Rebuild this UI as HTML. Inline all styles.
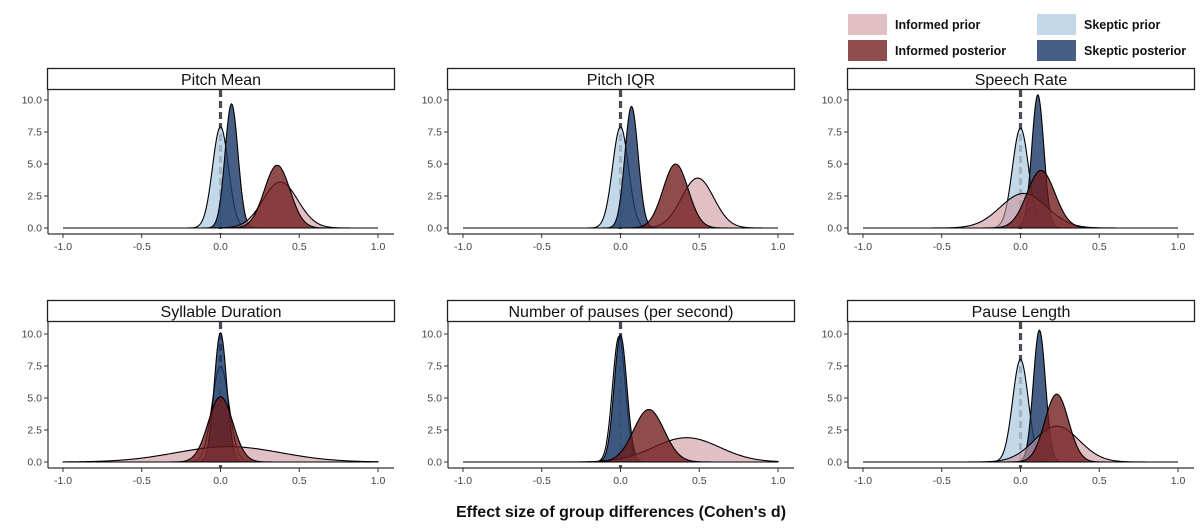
<!DOCTYPE html>
<html><head><meta charset="utf-8"><style>
body{margin:0;background:#fff;width:1200px;height:529px;overflow:hidden}
svg{display:block;font-family:"Liberation Sans",sans-serif}
</style></head><body>
<svg id="c" width="1200" height="529"></svg>
<script>
const panelTitles=["Pitch Mean","Pitch IQR","Speech Rate","Syllable Duration","Number of pauses (per second)","Pause Length"];
const seriesNames=["Informed prior","Informed posterior","Skeptic prior","Skeptic posterior"];
// means per panel, per series [infPrior, infPost, skPrior, skPost]
const means=[[0.38,0.36,0,0.07],[0.49,0.35,0,0.07],[0.02,0.13,0,0.11],[0.05,0,0,0],[0.42,0.18,-0.01,0],[0.23,0.23,0,0.12]];
// peak densities
const peaks=[[3.6,4.9,7.9,9.7],[3.9,5.0,7.9,9.5],[2.7,4.5,7.8,10.4],[1.2,5.1,7.5,10.1],[1.9,4.1,9.8,9.9],[2.8,5.3,8.0,10.3]];
const xTicks=[-1,-0.5,0,0.5,1];
const xTickLabels=["-1.0","-0.5","0.0","0.5","1.0"];
const yTicks=[0,2.5,5,7.5,10];
const yTickLabels=["0.0","2.5","5.0","7.5","10.0"];
const fills=["rgba(205,150,158,0.6)","rgba(110,25,25,0.78)","rgba(180,206,226,0.8)","rgba(30,60,105,0.82)"];
const drawOrder=[2,3,0,1];
const NS="http://www.w3.org/2000/svg";
const svg=document.getElementById('c');
function mk(t,a,p){const e=document.createElementNS(NS,t);for(const k in a)e.setAttribute(k,a[k]);(p||svg).appendChild(e);return e;}
const lg=mk('g',{});


const legPos=[[848,14],[848,40],[1037,14],[1037,40]];
seriesNames.forEach((n,i)=>{
 const g=mk('g',{},lg);
 
 
 mk('rect',{x:legPos[i][0],y:legPos[i][1],width:39,height:21,fill:fills[i]},g);
 const t=mk('text',{x:legPos[i][0]+47,y:legPos[i][1]+15,'font-size':12.5,'font-weight':'bold',fill:'#111'},g);t.textContent=n;
});
panelTitles.forEach((title,p)=>{
 const off=(p%3)*400, row=Math.floor(p/3);
 const stripTop=row?300:68, y0=row?462:228, y10=row?334:100, axisY=row?468:234;
 const X=v=>off+63+(v+1)/2*315;
 const Y=v=>y0+(y10-y0)*v/10;
 const g=mk('g',{});
 
 
 const st=mk('rect',{x:off+47.5,y:stripTop+0.5,width:347,height:21,fill:'#fff',stroke:'#222','stroke-width':1.3},g);
 
 
 const tt=mk('text',{x:off+221,y:stripTop+17,'font-size':16,'text-anchor':'middle',fill:'#111'},g);tt.textContent=title;
 mk('line',{x1:X(0),x2:X(0),y1:stripTop+22,y2:axisY,stroke:'#4a4a58','stroke-width':3.2,'stroke-dasharray':'7,4'},g);
 drawOrder.forEach(s=>{
  const m=means[p][s], pk=peaks[p][s], sd=1/(pk*Math.sqrt(2*Math.PI));
  let d='M'+X(-1)+','+Y(0);
  for(let i=0;i<=400;i++){const v=-1+i/200;d+=' L'+X(v).toFixed(2)+','+Y(pk*Math.exp(-0.5*((v-m)/sd)**2)).toFixed(2);}
  d+=' L'+X(1)+','+Y(0)+' Z';
  const path=mk('path',{d:d,fill:fills[s],stroke:'#000','stroke-width':1.1},g);
  
  
 });
 mk('line',{x1:off+48,x2:off+48,y1:stripTop+22,y2:axisY,stroke:'#333','stroke-width':1.2},g);
 mk('line',{x1:off+48,x2:off+394,y1:axisY,y2:axisY,stroke:'#333','stroke-width':1.2},g);
 xTicks.forEach((v,i)=>{mk('line',{x1:X(v),x2:X(v),y1:axisY,y2:axisY+4,stroke:'#333'},g);
  const t=mk('text',{x:X(v),y:axisY+16,'font-size':10.5,'text-anchor':'middle',fill:'#444'},g);t.textContent=xTickLabels[i];});
 yTicks.forEach((v,i)=>{mk('line',{x1:off+44,x2:off+48,y1:Y(v),y2:Y(v),stroke:'#333'},g);
  const t=mk('text',{x:off+42,y:Y(v)+3.5,'font-size':10.5,'text-anchor':'end',fill:'#444'},g);t.textContent=yTickLabels[i];});
});
const xl=mk('text',{x:621,y:517,'font-size':16,'font-weight':'bold','text-anchor':'middle',fill:'#111'});
xl.textContent="Effect size of group differences (Cohen's d)";


</script>
</body></html>
